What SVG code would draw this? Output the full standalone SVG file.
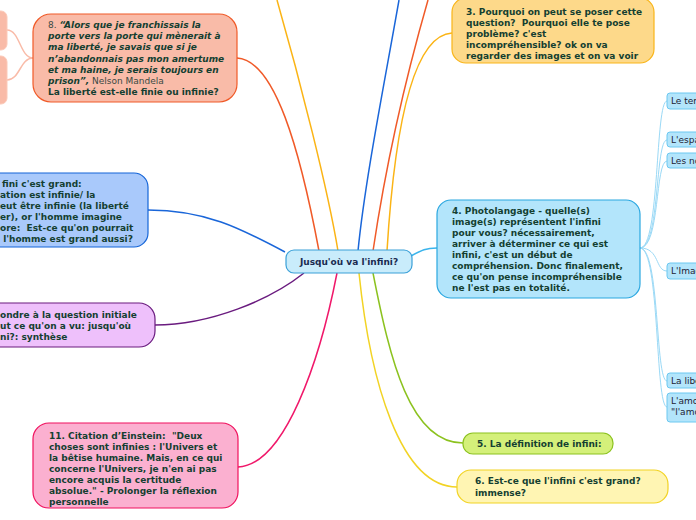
<svg xmlns="http://www.w3.org/2000/svg" width="696" height="520" viewBox="0 0 696 520">
<style>
text{font-family:"DejaVu Sans","Verdana",sans-serif;font-size:9px;font-weight:bold;fill:#143f31;white-space:pre}
.n{font-weight:normal;fill:#3a4a44}
.bi{font-style:italic}
.leaf text{font-weight:normal;fill:#223;font-size:9px}
.leaf rect{fill:#b3e5fb;stroke:#6cc8f0;stroke-width:1}
.c{fill:none;stroke-width:1.5}
</style>
<rect width="696" height="520" fill="#fff"/>
<g id="connectors">
<path class="c" d="M237,58 C275,60 300,150 319,251" stroke="#f05a28"/>
<path class="c" d="M277,0 C300,80 328,190 338,251" stroke="#fbb415"/>
<path class="c" d="M399,0 C385,80 365,180 358,251" stroke="#1a66d9"/>
<path class="c" d="M428,0 C405,80 385,170 373,251" stroke="#f05a28"/>
<path class="c" d="M452,33 C415,35 395,120 387,251" stroke="#fbb415"/>
<path class="c" d="M148,210 C205,210 240,228 285,252" stroke="#1a66d9"/>
<path class="c" d="M155,325 C210,325 270,300 304,273" stroke="#6a1b7f"/>
<path class="c" d="M238,467 C285,465 320,360 337,273" stroke="#f0186a"/>
<path class="c" d="M359,273 C370,380 400,487 457,487" stroke="#f2d324"/>
<path class="c" d="M373,273 C390,360 410,443 463,443" stroke="#8cc21f"/>
<path class="c" d="M411,256 C422,250 426,248 437,248" stroke="#3ab4ec"/>
<path class="c" d="M33,58 C20,58 20,30 7,30" stroke="#f9bba8"/>
<path class="c" d="M33,58 C20,58 20,80 7,80" stroke="#f9bba8"/>
<g stroke="#9ad9f6" stroke-width="1" fill="none">
<path d="M640,248 C660,248 655,101 667,101"/>
<path d="M640,248 C660,248 655,140 667,140"/>
<path d="M640,248 C660,248 655,161 667,161"/>
<path d="M640,248 C660,248 655,271 667,271"/>
<path d="M640,248 C660,248 655,381 667,381"/>
<path d="M640,248 C660,248 655,407 667,407"/>
</g>
</g>
<g id="n8-c1"><rect x="-20" y="11" width="27" height="39" rx="6" fill="#f9bba8" stroke="#fbc9b8"/></g>
<g id="n8-c2"><rect x="-20" y="56" width="27" height="48" rx="6" fill="#f9bba8" stroke="#fbc9b8"/></g>
<g id="center">
<rect x="286" y="250" width="126" height="23" rx="8" fill="#c9ecfb" stroke="#3aa0d8" stroke-width="1.2"/>
<text x="349" y="265" text-anchor="middle" style="fill:#1a2b50">Jusqu'où va l'infini?</text>
</g>
<g id="n8">
<rect x="33" y="14" width="204" height="88" rx="18" fill="#f9bba8" stroke="#f05a28" stroke-width="1.2"/>
<text x="48" y="28"><tspan class="n">8. </tspan><tspan class="bi">“Alors que je franchissais la</tspan></text>
<text x="48" y="39.2" class="bi">porte vers la porte qui mènerait à</text>
<text x="48" y="50.4" class="bi">ma liberté, je savais que si je</text>
<text x="48" y="61.6" class="bi">n’abandonnais pas mon amertume</text>
<text x="48" y="72.8" class="bi">et ma haine, je serais toujours en</text>
<text x="48" y="84"><tspan class="bi">prison”,</tspan><tspan class="n"> Nelson Mandela</tspan></text>
<text x="48" y="95.2">La liberté est-elle finie ou infinie?</text>
</g>
<g id="n3">
<rect x="452" y="-2" width="202" height="65" rx="14" fill="#fdd98a" stroke="#f9b51a" stroke-width="1.2"/>
<text x="466" y="15">3. Pourquoi on peut se poser cette</text>
<text x="466" y="26">question?  Pourquoi elle te pose</text>
<text x="466" y="37">problème? c'est</text>
<text x="466" y="48">incompréhensible? ok on va</text>
<text x="466" y="59">regarder des images et on va voir</text>
</g>
<g id="n4">
<rect x="437" y="200" width="203" height="98" rx="14" fill="#b3e5fb" stroke="#2aa7e0" stroke-width="1.2"/>
<text x="452" y="214">4. Photolangage - quelle(s)</text>
<text x="452" y="225">image(s) représentent l'infini</text>
<text x="452" y="236">pour vous? nécessairement,</text>
<text x="452" y="247">arriver à déterminer ce qui est</text>
<text x="452" y="258">infini, c'est un début de</text>
<text x="452" y="269">compréhension. Donc finalement,</text>
<text x="452" y="280">ce qu'on pense incompréhensible</text>
<text x="452" y="291">ne l'est pas en totalité.</text>
</g>
<g id="leaf1" class="leaf"><rect x="667" y="93" width="40" height="16" rx="3"/><text x="671" y="104">Le tem</text></g>
<g id="leaf2" class="leaf"><rect x="667" y="132" width="40" height="15" rx="3"/><text x="671" y="143">L'espa</text></g>
<g id="leaf3" class="leaf"><rect x="667" y="153" width="40" height="15" rx="3"/><text x="671" y="164">Les no</text></g>
<g id="leaf4" class="leaf"><rect x="667" y="263" width="40" height="16" rx="3"/><text x="671" y="274">L'Imag</text></g>
<g id="leaf5" class="leaf"><rect x="667" y="373" width="40" height="15" rx="3"/><text x="671" y="384">La libe</text></g>
<g id="leaf6" class="leaf"><rect x="667" y="393" width="40" height="29" rx="3"/><text x="671" y="404">L'amo</text><text x="671" y="415">"l'amo</text></g>
<g id="n5">
<rect x="463" y="433" width="150" height="21" rx="10" fill="#d4f07a" stroke="#8cc21f" stroke-width="1.2"/>
<text x="477" y="447">5. La définition de infini:</text>
</g>
<g id="n6">
<rect x="457" y="470" width="211" height="33" rx="14" fill="#fff5b3" stroke="#f2d324" stroke-width="1.2"/>
<text x="475" y="484">6. Est-ce que l'infini c'est grand?</text>
<text x="475" y="496">immense?</text>
</g>
<g id="n-grand">
<rect x="-30" y="173" width="178" height="74" rx="14" fill="#a9c9fb" stroke="#1565d8" stroke-width="1.2"/>
<text x="2" y="187">fini c'est grand:</text>
<text x="0" y="198">ation est infinie/ la</text>
<text x="0" y="209">eut être infinie (la liberté</text>
<text x="0" y="220">er), or l'homme imagine</text>
<text x="0" y="231">ore:  Est-ce qu'on pourrait</text>
<text x="0" y="242"> l'homme est grand aussi?</text>
</g>
<g id="n-synth">
<rect x="-30" y="303" width="185" height="44" rx="16" fill="#eec0fb" stroke="#6a1b7f" stroke-width="1.2"/>
<text x="0" y="318">ondre à la question initiale</text>
<text x="0" y="329">ut ce qu'on a vu: jusqu'où</text>
<text x="0" y="340">ni?: synthèse</text>
</g>
<g id="n11">
<rect x="33" y="423" width="205" height="85" rx="16" fill="#fbb0d0" stroke="#f0115e" stroke-width="1.2"/>
<text x="49" y="439">11. Citation d’Einstein:  "Deux</text>
<text x="49" y="450">choses sont infinies : l'Univers et</text>
<text x="49" y="461">la bêtise humaine. Mais, en ce qui</text>
<text x="49" y="472">concerne l'Univers, je n'en ai pas</text>
<text x="49" y="483">encore acquis la certitude</text>
<text x="49" y="494">absolue." - Prolonger la réflexion</text>
<text x="49" y="505">personnelle</text>
</g>
</svg>
